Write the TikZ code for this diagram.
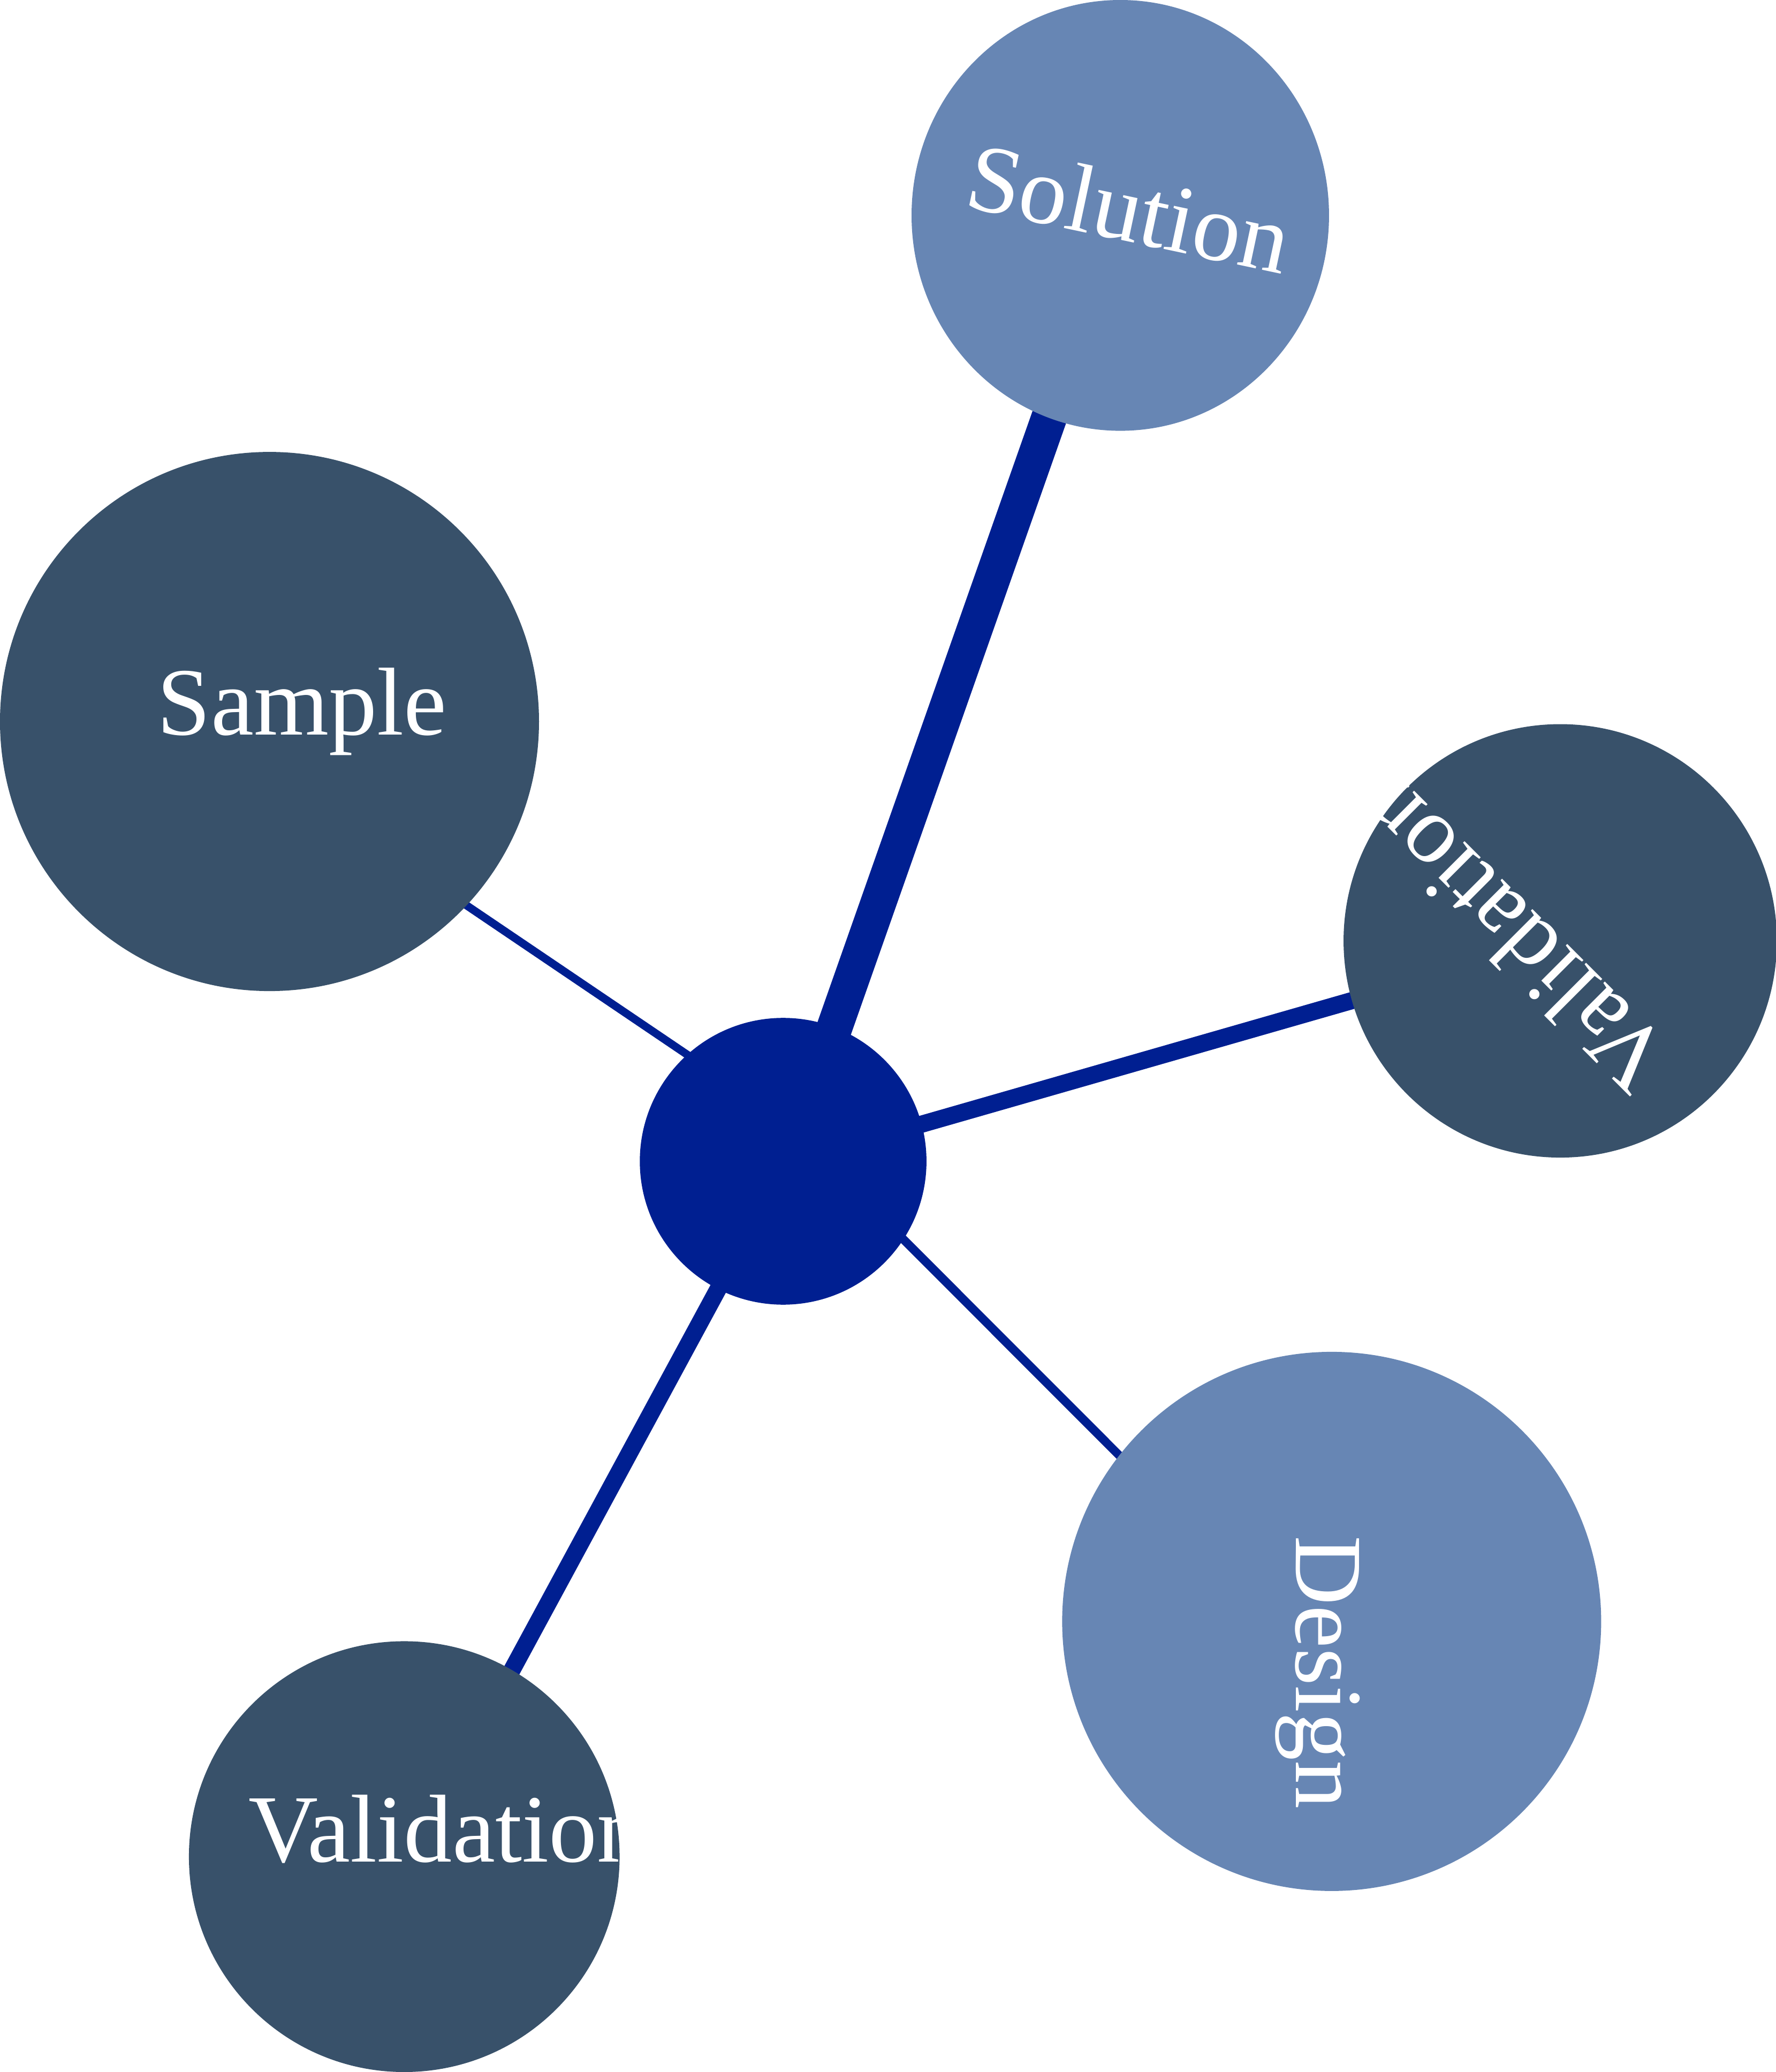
\documentclass[tikz,border=0pt]{standalone}
\usepackage{fontspec}
\setmainfont{Liberation Serif}
\usetikzlibrary{backgrounds}
\definecolor{hub}{RGB}{0,31,145}
\definecolor{slate}{RGB}{56,81,106}
\definecolor{steel}{RGB}{103,134,180}
\begin{document}
\begin{tikzpicture}[x=1pt,y=-1pt,
  bubble/.style={circle,inner sep=0pt,minimum size=#1},
  lbl/.style={text=white,inner sep=0pt,font=\fontsize{73}{80}\selectfont},
  link/.style={draw=hub,line width=#1,shorten <=-12pt,shorten >=-12pt}]
\useasboundingbox (0,0) rectangle (1344,1568);
% nodes
\node[bubble=217,fill=hub] (hubnode) at (592.8,878.8) {};
\node[bubble=408,fill=slate] (sample) at (204,546) {};
\node[bubble=328,fill=slate] (valr) at (1181,712) {};
\node[bubble=408,fill=steel] (design) at (1008,1227) {};
\node[bubble=326,fill=slate] (valb) at (306,1405) {};
\node[bubble=320] (sol) at (848,163) {};
\fill[steel] (sol.center) ellipse [x radius=158, y radius=163];
% labels
\node[lbl,anchor=base] (tsample) at (228.6,556) {Sample};
\node[lbl,anchor=base,rotate=-12] (tsol) at (849.5,182) {Solution};
\node[lbl,anchor=base west,rotate=135] (tvalr) at (1268.7,796.7) {Validation};
\node[lbl,anchor=base west,rotate=-90] (tdesign) at (981,1162) {Design};
\node[lbl,anchor=base west] (tvalb) at (188,1409) {Validation};
% connectors
\begin{pgfonlayer}{background}
\draw[link=27] (hubnode.69.7) -- (sol.center);
\draw[link=6] (hubnode.132.8) -- (sample.-43.8);
\draw[link=13] (hubnode.15.4) -- (valr.196.6);
\draw[link=6.5] (hubnode.-33.9) -- (design.142.4);
\draw[link=13] (hubnode.-117.5) -- (valb.60.9);
\end{pgfonlayer}
\end{tikzpicture}
\end{document}
